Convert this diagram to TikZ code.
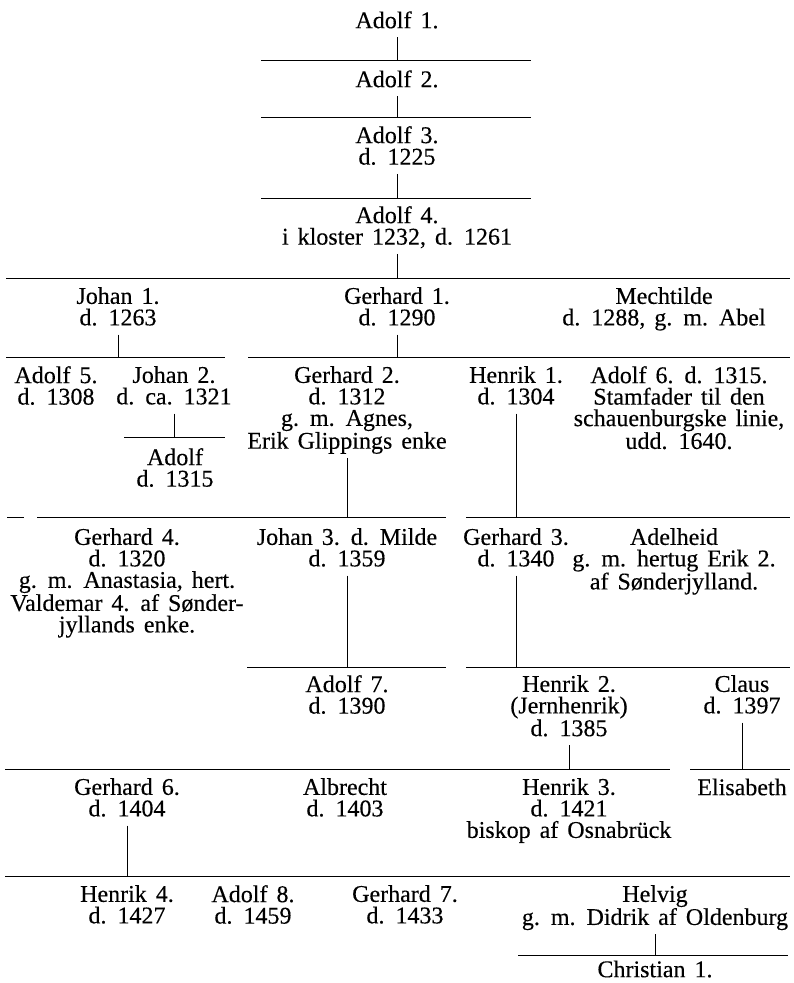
\documentclass[tikz,border=0pt]{standalone}
\usepackage{fontspec}
\setmainfont{Liberation Serif}[WordSpace=1.5,FakeBold=0.3]
\begin{document}
\begin{tikzpicture}[x=1pt,y=-1pt,
  p0/.style={anchor=north, inner sep=0pt, align=center,
    font=\fontsize{24}{21.5}\selectfont,
    execute at begin node={\rule{0pt}{17pt}}},
  p/.style={p0, execute at end node={\rule[-6pt]{0pt}{6pt}}},
  ln/.style={line width=0.7pt},
  tk/.style={line width=0.7pt}]
\useasboundingbox (0,0) rectangle (794,983);

% people
\node[p] (a1) at (397,11) {Adolf 1.};
\node[p] (a2) at (397,70) {Adolf 2.};
\node[p] (a3) at (397,126) {Adolf 3.\\d. 1225};
\node[p] (a4) at (397,206) {Adolf 4.\\i kloster 1232, d. 1261};
\node[p] (j1) at (118,287) {Johan 1.\\d. 1263};
\node[p] (g1) at (397,287) {Gerhard 1.\\d. 1290};
\node[p] (me) at (664,287) {Mechtilde\\d. 1288, g. m. Abel};
\node[p] (a5) at (56,366) {Adolf 5.\\d. 1308};
\node[p] (j2) at (174,366) {Johan 2.\\d. ca. 1321};
\node[p] (g2) at (347,366) {Gerhard 2.\\d. 1312\\g. m. Agnes,\\Erik Glippings enke};
\node[p] (h1) at (516,366) {Henrik 1.\\d. 1304};
\node[p] (a6) at (679,366) {Adolf 6. d. 1315.\\Stamfader til den\\schauenburgske linie,\\udd. 1640.};
\node[p] (ad) at (175,448) {Adolf\\d. 1315};
\node[p] (g4) at (127,528) {Gerhard 4.\\d. 1320\\g. m. Anastasia, hert.\\Valdemar 4. af Sønder-\\jyllands enke.};
\node[p] (j3) at (347,528) {Johan 3. d. Milde\\d. 1359};
\node[p] (g3) at (516,528) {Gerhard 3.\\d. 1340};
\node[p] (ah) at (674,528) {Adelheid\\g. m. hertug Erik 2.\\af Sønderjylland.};
\node[p] (a7) at (347,675) {Adolf 7.\\d. 1390};
\node[p] (h2) at (569,675) {Henrik 2.\\(Jernhenrik)\\d. 1385};
\node[p] (cl) at (742,675) {Claus\\d. 1397};
\node[p] (g6) at (127,778) {Gerhard 6.\\d. 1404};
\node[p] (al) at (345,778) {Albrecht\\d. 1403};
\node[p] (h3) at (569,778) {Henrik 3.\\d. 1421\\biskop af Osnabrück};
\node[p] (el) at (742,778) {Elisabeth};
\node[p] (h4) at (127,885) {Henrik 4.\\d. 1427};
\node[p] (a8) at (253,885) {Adolf 8.\\d. 1459};
\node[p] (g7) at (405,885) {Gerhard 7.\\d. 1433};
\node[p] (hv) at (655,885) {Helvig\\g. m. Didrik af Oldenburg};
\node[p0] (ch) at (655,960) {Christian 1.};

% horizontal family lines
\coordinate (L1a) at (261,60);  \coordinate (L1b) at (531,60);
\coordinate (L2a) at (261,117); \coordinate (L2b) at (531,117);
\coordinate (L3a) at (261,198); \coordinate (L3b) at (531,198);
\coordinate (L4a) at (6,278);   \coordinate (L4b) at (790,278);
\coordinate (L5a) at (6,357);   \coordinate (L5b) at (225,357);
\coordinate (L5c) at (248,357); \coordinate (L5d) at (790,357);
\coordinate (L6a) at (124,437); \coordinate (L6b) at (225,437);
\coordinate (L7a) at (7,517);   \coordinate (L7b) at (24,517);
\coordinate (L7c) at (37,517);  \coordinate (L7d) at (446,517);
\coordinate (L7e) at (466,517); \coordinate (L7f) at (790,517);
\coordinate (L8a) at (247,667); \coordinate (L8b) at (446,667);
\coordinate (L8c) at (466,667); \coordinate (L8d) at (790,667);
\coordinate (L9a) at (5,769);   \coordinate (L9b) at (670,769);
\coordinate (L9c) at (690,769); \coordinate (L9d) at (790,769);
\coordinate (L10a) at (5,876);  \coordinate (L10b) at (790,876);
\coordinate (L11a) at (518,955); \coordinate (L11b) at (788,955);

\draw[ln] (L1a) -- (L1b);
\draw[ln] (L2a) -- (L2b);
\draw[ln] (L3a) -- (L3b);
\draw[ln] (L4a) -- (L4b);
\draw[ln] (L5a) -- (L5b);
\draw[ln] (L5c) -- (L5d);
\draw[ln] (L6a) -- (L6b);
\draw[ln] (L7a) -- (L7b);
\draw[ln] (L7c) -- (L7d);
\draw[ln] (L7e) -- (L7f);
\draw[ln] (L8a) -- (L8b);
\draw[ln] (L8c) -- (L8d);
\draw[ln] (L9a) -- (L9b);
\draw[ln] (L9c) -- (L9d);
\draw[ln] (L10a) -- (L10b);
\draw[ln] (L11a) -- (L11b);

% descent ticks
\draw[tk] ([yshift=-3pt]a1.south) -- (a1.south |- L1a);
\draw[tk] ([yshift=-3pt]a2.south) -- (a2.south |- L2a);
\draw[tk] ([yshift=-3pt]a3.south) -- (a3.south |- L3a);
\draw[tk] ([yshift=-3pt]a4.south) -- (a4.south |- L4a);
\draw[tk] ([yshift=-3pt]j1.south) -- (j1.south |- L5a);
\draw[tk] ([yshift=-3pt]g1.south) -- (g1.south |- L5c);
\draw[tk] ([yshift=-3pt]j2.south) -- (j2.south |- L6a);
\draw[tk] ([yshift=-3pt]g2.south) -- (g2.south |- L7c);
\draw[tk] ([yshift=-3pt]h1.south) -- (h1.south |- L7e);
\draw[tk] ([yshift=-3pt]j3.south) -- (j3.south |- L8a);
\draw[tk] ([yshift=-3pt]g3.south) -- (g3.south |- L8c);
\draw[tk] ([yshift=-3pt]h2.south) -- (h2.south |- L9a);
\draw[tk] ([yshift=-3pt]cl.south) -- (cl.south |- L9c);
\draw[tk] ([yshift=-3pt]g6.south) -- (g6.south |- L10a);
\draw[tk] ([yshift=-3pt]hv.south) -- (hv.south |- L11a);
\end{tikzpicture}
\end{document}
